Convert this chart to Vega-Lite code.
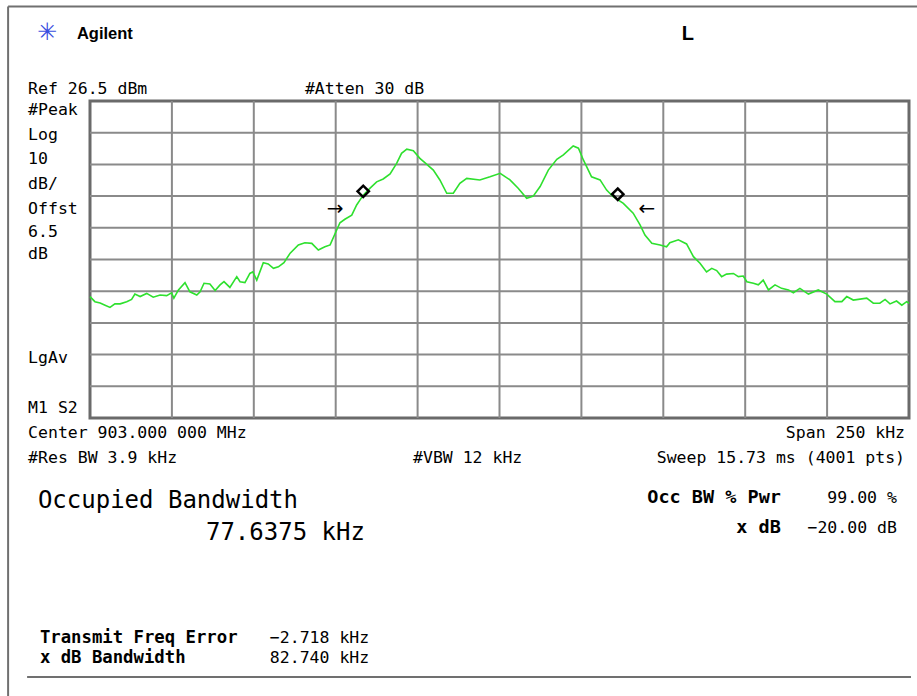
{
  "$schema": "https://vega.github.io/schema/vega-lite/v6.json",
  "width": 819,
  "height": 317,
  "autosize": {"type": "none"},
  "padding": {"left": 90, "top": 101, "right": 8, "bottom": 278},
  "background": "white",
  "config": {
    "view": {"stroke": "#6a6a6a", "strokeWidth": 3}
  },
  "layer": [
    {
      "data": {"values": [{"f": -100}, {"f": -75}, {"f": -50}, {"f": -25}, {"f": 0}, {"f": 25}, {"f": 50}, {"f": 75}, {"f": 100}]},
      "mark": {"type": "rule", "color": "#8a8a8a", "strokeWidth": 2},
      "encoding": {
        "x": {"field": "f", "type": "quantitative", "scale": {"domain": [-125, 125], "nice": false, "zero": false}, "axis": null}
      }
    },
    {
      "data": {"values": [{"L": -63.5}, {"L": -53.5}, {"L": -43.5}, {"L": -33.5}, {"L": -23.5}, {"L": -13.5}, {"L": -3.5}, {"L": 6.5}, {"L": 16.5}]},
      "mark": {"type": "rule", "color": "#8a8a8a", "strokeWidth": 2},
      "encoding": {
        "y": {"field": "L", "type": "quantitative", "scale": {"domain": [-73.5, 26.5], "nice": false, "zero": false}, "axis": null}
      }
    },
    {
      "data": {"values": [
        {"f": -125.0, "L": -35.2}, {"f": -123.5, "L": -36.8}, {"f": -121.9, "L": -37.2}, {"f": -120.4, "L": -37.9}, {"f": -118.9, "L": -38.6},
        {"f": -117.4, "L": -37.5}, {"f": -115.8, "L": -37.5}, {"f": -113.8, "L": -36.8}, {"f": -112.3, "L": -36.1}, {"f": -111.3, "L": -34.4},
        {"f": -109.7, "L": -35.2}, {"f": -107.7, "L": -34.2}, {"f": -105.7, "L": -35.4}, {"f": -103.6, "L": -34.7}, {"f": -101.6, "L": -34.9},
        {"f": -100.1, "L": -34.0}, {"f": -99.4, "L": -35.7}, {"f": -98.0, "L": -33.1}, {"f": -96.0, "L": -30.8}, {"f": -94.5, "L": -33.7},
        {"f": -92.4, "L": -34.7}, {"f": -91.4, "L": -33.7}, {"f": -90.2, "L": -31.0}, {"f": -88.4, "L": -31.2}, {"f": -86.8, "L": -33.3},
        {"f": -85.3, "L": -31.5}, {"f": -84.1, "L": -30.5}, {"f": -82.3, "L": -32.3}, {"f": -80.2, "L": -28.9}, {"f": -79.2, "L": -30.5},
        {"f": -77.7, "L": -30.8}, {"f": -76.2, "L": -27.9}, {"f": -75.3, "L": -27.4}, {"f": -74.1, "L": -30.0}, {"f": -72.1, "L": -24.5},
        {"f": -70.6, "L": -24.9}, {"f": -69.0, "L": -26.3}, {"f": -67.5, "L": -25.8}, {"f": -65.8, "L": -24.5}, {"f": -63.9, "L": -21.5},
        {"f": -61.4, "L": -18.9}, {"f": -59.4, "L": -18.2}, {"f": -57.3, "L": -18.4}, {"f": -55.3, "L": -20.5}, {"f": -53.3, "L": -19.5},
        {"f": -51.7, "L": -18.9}, {"f": -49.7, "L": -14.2}, {"f": -48.7, "L": -11.9}, {"f": -47.2, "L": -10.8}, {"f": -45.1, "L": -9.5},
        {"f": -43.6, "L": -6.3}, {"f": -41.6, "L": -3.2}, {"f": -39.5, "L": -1.0}, {"f": -37.5, "L": 1.0}, {"f": -35.5, "L": 1.9},
        {"f": -33.4, "L": 3.5}, {"f": -31.4, "L": 6.8}, {"f": -29.9, "L": 10.0}, {"f": -28.3, "L": 11.3}, {"f": -26.3, "L": 10.8},
        {"f": -24.3, "L": 8.4}, {"f": -22.7, "L": 7.0}, {"f": -20.2, "L": 4.7}, {"f": -18.2, "L": 1.6}, {"f": -16.1, "L": -2.6},
        {"f": -14.1, "L": -2.6}, {"f": -12.1, "L": 0.5}, {"f": -10.0, "L": 2.1}, {"f": -6.0, "L": 1.6}, {"f": -2.9, "L": 2.6},
        {"f": 0.2, "L": 3.7}, {"f": 3.2, "L": 1.6}, {"f": 5.7, "L": -1.0}, {"f": 8.3, "L": -4.2}, {"f": 10.3, "L": -3.5},
        {"f": 12.4, "L": -0.5}, {"f": 14.9, "L": 4.7}, {"f": 17.5, "L": 8.1}, {"f": 19.5, "L": 9.5}, {"f": 22.5, "L": 12.3},
        {"f": 24.1, "L": 11.6}, {"f": 25.6, "L": 7.9}, {"f": 28.1, "L": 2.6}, {"f": 30.7, "L": 1.6}, {"f": 32.7, "L": -1.6},
        {"f": 34.7, "L": -3.7}, {"f": 37.8, "L": -5.8}, {"f": 40.8, "L": -8.9}, {"f": 42.9, "L": -12.6}, {"f": 44.4, "L": -15.8},
        {"f": 46.5, "L": -18.4}, {"f": 49.0, "L": -18.9}, {"f": 51.0, "L": -19.5}, {"f": 52.0, "L": -18.2}, {"f": 54.6, "L": -17.3},
        {"f": 57.1, "L": -18.6}, {"f": 59.2, "L": -22.6}, {"f": 61.2, "L": -24.7}, {"f": 63.2, "L": -27.4}, {"f": 64.8, "L": -26.3},
        {"f": 66.3, "L": -27.0}, {"f": 67.8, "L": -28.9}, {"f": 69.3, "L": -28.1}, {"f": 71.4, "L": -27.9}, {"f": 72.9, "L": -28.9},
        {"f": 74.4, "L": -28.7}, {"f": 75.5, "L": -30.5}, {"f": 77.5, "L": -31.0}, {"f": 79.0, "L": -31.5}, {"f": 80.5, "L": -30.0},
        {"f": 82.1, "L": -33.1}, {"f": 84.1, "L": -31.5}, {"f": 86.1, "L": -32.6}, {"f": 88.2, "L": -33.1}, {"f": 89.7, "L": -34.0},
        {"f": 91.7, "L": -32.6}, {"f": 94.3, "L": -34.4}, {"f": 97.3, "L": -33.1}, {"f": 99.9, "L": -34.4}, {"f": 102.4, "L": -36.8},
        {"f": 104.5, "L": -36.8}, {"f": 106.0, "L": -35.2}, {"f": 108.0, "L": -36.3}, {"f": 112.1, "L": -35.7}, {"f": 114.1, "L": -37.3},
        {"f": 116.1, "L": -37.3}, {"f": 117.7, "L": -36.1}, {"f": 119.2, "L": -37.5}, {"f": 121.2, "L": -36.6}, {"f": 122.8, "L": -37.9},
        {"f": 124.3, "L": -36.8}, {"f": 125.0, "L": -37.3}
      ]},
      "mark": {"type": "line", "color": "#2ee02e", "strokeWidth": 1.6},
      "encoding": {
        "x": {"field": "f", "type": "quantitative", "axis": null},
        "y": {"field": "L", "type": "quantitative", "axis": null}
      }
    },
    {
      "data": {"values": [{"f": -41.6, "L": -2.0}, {"f": 36.1, "L": -2.9}]},
      "mark": {"type": "point", "shape": "diamond", "filled": false, "stroke": "black", "strokeWidth": 2.5, "size": 130, "opacity": 1},
      "encoding": {
        "x": {"field": "f", "type": "quantitative", "axis": null},
        "y": {"field": "L", "type": "quantitative", "axis": null}
      }
    },
    {
      "data": {"values": [
        {"f": -150.0, "f2": 128.0, "L": 56.3, "L2": 56.3},
        {"f": -150.0, "f2": -150.0, "L": 56.3, "L2": -162.0},
        {"f": -144.2, "f2": 125.6, "L": -155.2, "L2": -155.2}
      ]},
      "mark": {"type": "rule", "color": "#707070", "strokeWidth": 2},
      "encoding": {
        "x": {"field": "f", "type": "quantitative", "axis": null},
        "x2": {"field": "f2"},
        "y": {"field": "L", "type": "quantitative", "axis": null},
        "y2": {"field": "L2"}
      }
    },
    {
      "data": {"values": [
        {"text": "Ref 26.5 dBm", "f": -143.9, "L": 28.7},
        {"text": "#Atten 30 dB", "f": -59.4, "L": 28.7},
        {"text": "#Peak", "f": -143.9, "L": 22.1},
        {"text": "Log", "f": -143.9, "L": 14.2},
        {"text": "10", "f": -143.9, "L": 6.6},
        {"text": "dB/", "f": -143.9, "L": -1.3},
        {"text": "Offst", "f": -143.9, "L": -9.1},
        {"text": "6.5", "f": -143.9, "L": -16.4},
        {"text": "dB", "f": -143.9, "L": -23.3},
        {"text": "LgAv", "f": -143.9, "L": -56.2},
        {"text": "M1  S2", "f": -143.9, "L": -71.9},
        {"text": "Center 903.000 000 MHz", "f": -143.9, "L": -79.8},
        {"text": "#Res BW 3.9 kHz", "f": -143.9, "L": -87.7},
        {"text": "#VBW 12 kHz", "f": -26.4, "L": -87.7},
        {"text": "−2.718 kHz", "f": -70.1, "L": -144.5},
        {"text": "82.740 kHz", "f": -70.1, "L": -150.8}
      ]},
      "mark": {"type": "text", "align": "left", "baseline": "alphabetic", "font": "DejaVu Sans Mono", "fontSize": 16.5, "color": "black"},
      "encoding": {
        "x": {"field": "f", "type": "quantitative", "axis": null},
        "y": {"field": "L", "type": "quantitative", "axis": null},
        "text": {"field": "text"}
      }
    },
    {
      "data": {"values": [
        {"text": "Span 250 kHz", "f": 123.8, "L": -79.8},
        {"text": "Sweep 15.73 ms (4001 pts)", "f": 123.8, "L": -87.7},
        {"text": "99.00 %", "f": 121.3, "L": -100.3},
        {"text": "−20.00 dB", "f": 121.3, "L": -109.8}
      ]},
      "mark": {"type": "text", "align": "right", "baseline": "alphabetic", "font": "DejaVu Sans Mono", "fontSize": 16.5, "color": "black"},
      "encoding": {
        "x": {"field": "f", "type": "quantitative", "axis": null},
        "y": {"field": "L", "type": "quantitative", "axis": null},
        "text": {"field": "text"}
      }
    },
    {
      "data": {"values": [
        {"text": "Occ BW % Pwr", "f": 85.9, "L": -100.3},
        {"text": "x dB", "f": 85.9, "L": -109.8}
      ]},
      "mark": {"type": "text", "align": "right", "baseline": "alphabetic", "font": "DejaVu Sans Mono", "fontWeight": "bold", "fontSize": 18.5, "color": "black"},
      "encoding": {
        "x": {"field": "f", "type": "quantitative", "axis": null},
        "y": {"field": "L", "type": "quantitative", "axis": null},
        "text": {"field": "text"}
      }
    },
    {
      "data": {"values": [
        {"text": "Transmit Freq Error", "f": -140.3, "L": -144.5},
        {"text": "x dB Bandwidth", "f": -140.3, "L": -150.8}
      ]},
      "mark": {"type": "text", "align": "left", "baseline": "alphabetic", "font": "DejaVu Sans Mono", "fontWeight": "bold", "fontSize": 17.3, "color": "black"},
      "encoding": {
        "x": {"field": "f", "type": "quantitative", "axis": null},
        "y": {"field": "L", "type": "quantitative", "axis": null},
        "text": {"field": "text"}
      }
    },
    {
      "data": {"values": [
        {"text": "Occupied Bandwidth", "f": -140.9, "L": -101.9},
        {"text": "77.6375 kHz", "f": -89.6, "L": -112.0}
      ]},
      "mark": {"type": "text", "align": "left", "baseline": "alphabetic", "font": "DejaVu Sans Mono", "fontSize": 24, "color": "black"},
      "encoding": {
        "x": {"field": "f", "type": "quantitative", "axis": null},
        "y": {"field": "L", "type": "quantitative", "axis": null},
        "text": {"field": "text"}
      }
    },
    {
      "data": {"values": [
        {"text": "→", "f": -50.2, "L": -7.7},
        {"text": "←", "f": 45.0, "L": -7.7}
      ]},
      "mark": {"type": "text", "align": "center", "baseline": "middle", "font": "DejaVu Sans", "fontSize": 20, "color": "black"},
      "encoding": {
        "x": {"field": "f", "type": "quantitative", "axis": null},
        "y": {"field": "L", "type": "quantitative", "axis": null},
        "text": {"field": "text"}
      }
    },
    {
      "data": {"values": [
        {"text": "Agilent", "f": -129.0, "L": 46.1}
      ]},
      "mark": {"type": "text", "align": "left", "baseline": "alphabetic", "font": "Liberation Sans", "fontWeight": "bold", "fontSize": 16.5, "color": "black"},
      "encoding": {
        "x": {"field": "f", "type": "quantitative", "axis": null},
        "y": {"field": "L", "type": "quantitative", "axis": null},
        "text": {"field": "text"}
      }
    },
    {
      "data": {"values": [
        {"text": "L", "f": 57.5, "L": 45.7}
      ]},
      "mark": {"type": "text", "align": "center", "baseline": "alphabetic", "font": "Liberation Sans", "fontWeight": "bold", "fontSize": 20, "color": "black"},
      "encoding": {
        "x": {"field": "f", "type": "quantitative", "axis": null},
        "y": {"field": "L", "type": "quantitative", "axis": null},
        "text": {"field": "text"}
      }
    },
    {
      "data": {"values": [
        {"text": "✳", "f": -138.1, "L": 48.0}
      ]},
      "mark": {"type": "text", "align": "center", "baseline": "middle", "font": "DejaVu Sans", "fontSize": 24, "color": "#3a4ee0"},
      "encoding": {
        "x": {"field": "f", "type": "quantitative", "axis": null},
        "y": {"field": "L", "type": "quantitative", "axis": null},
        "text": {"field": "text"}
      }
    }
  ]
}
